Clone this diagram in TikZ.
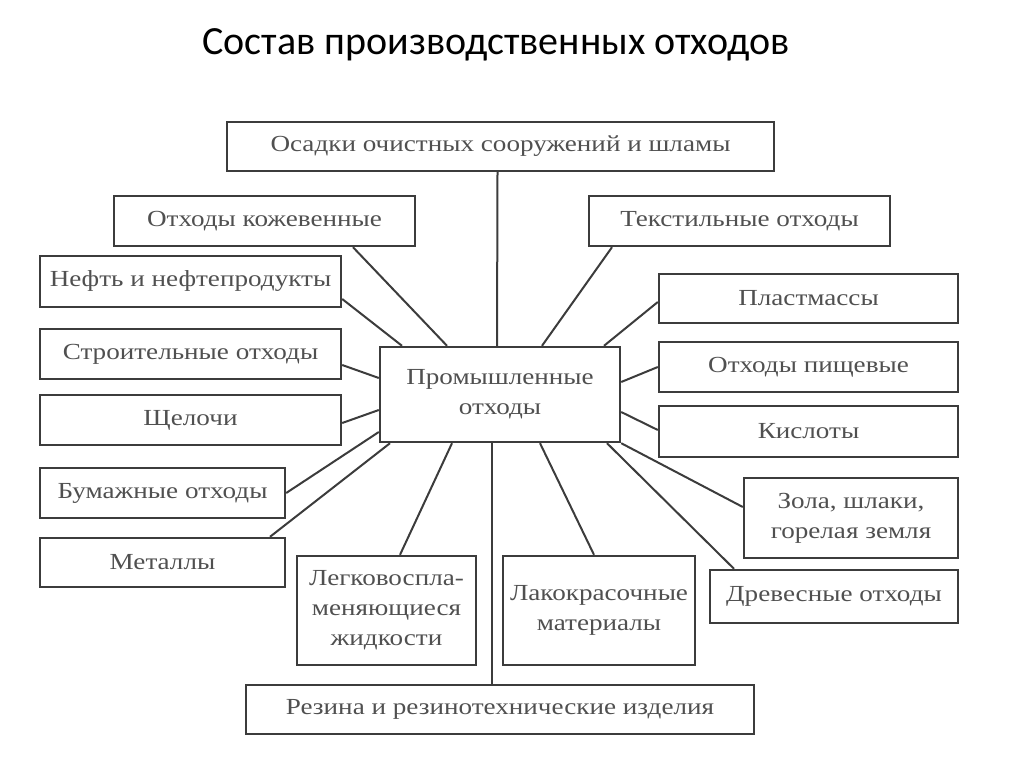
\documentclass[tikz,border=0pt]{standalone}
\usepackage{fontspec}
\setmainfont{Liberation Serif}[FakeStretch=1.18]
\newfontfamily\titlefont{Carlito}
\usepackage{tikz}

\definecolor{boxline}{HTML}{3C3C3C}
\definecolor{boxtext}{HTML}{505050}

\begin{document}
\begin{tikzpicture}[x=1pt,y=-1pt,
  box/.style={draw=boxline,line width=2.4pt,rectangle,inner sep=0pt,align=center,
    text=boxtext,font=\fontsize{23}{30}\selectfont},
  link/.style={draw=boxline,line width=2pt}]
\useasboundingbox (0,0) rectangle (1024,767);

\node[font=\titlefont\fontsize{40}{44}\selectfont] (title) at (496,45) {Состав производственных отходов};

% central box
\node[box,minimum width=240pt,minimum height=95pt] (prom) at (500,394.5) {Промышленные\\отходы};

% top and bottom
\node[box,minimum width=547pt,minimum height=49pt] (osadki) at (500.5,146.5) {Осадки очистных сооружений и шламы};
\node[box,minimum width=508pt,minimum height=49pt] (rezina) at (500,709.5) {Резина и резинотехнические изделия};

% left side
\node[box,minimum width=301pt,minimum height=50pt] (kozh) at (264.5,221) {Отходы кожевенные};
\node[box,minimum width=301pt,minimum height=51pt] (neft) at (190.5,281.5) {Нефть и нефтепродукты};
\node[box,minimum width=301pt,minimum height=50pt] (stroit) at (190.5,354) {Строительные отходы};
\node[box,minimum width=301pt,minimum height=50pt] (shchel) at (190.5,420) {Щелочи};
\node[box,minimum width=245pt,minimum height=50pt] (bumazh) at (162.5,493) {Бумажные отходы};
\node[box,minimum width=245pt,minimum height=49pt] (metall) at (162.5,562.5) {Металлы};
\node[box,minimum width=179pt,minimum height=109pt] (legko) at (386.5,610.5) {Легковоспла-\\меняющиеся\\жидкости};
\node[box,minimum width=192pt,minimum height=109pt] (lako) at (599,610.5) {Лакокрасочные\\материалы};

% right side
\node[box,minimum width=301pt,minimum height=50pt] (tekst) at (739.5,221) {Текстильные отходы};
\node[box,minimum width=299pt,minimum height=49pt] (plast) at (808.5,298.5) {Пластмассы};
\node[box,minimum width=299pt,minimum height=50pt] (pishch) at (808.5,367) {Отходы пищевые};
\node[box,minimum width=299pt,minimum height=51pt] (kislot) at (808.5,431.5) {Кислоты};
\node[box,minimum width=214pt,minimum height=80pt] (zola) at (851,518) {Зола, шлаки,\\горелая земля};
\node[box,minimum width=248pt,minimum height=53pt] (drev) at (834,596.5) {Древесные отходы};

% connectors
\draw[link] ([xshift=-3pt]osadki.south) -- ([xshift=-3pt]prom.north);
\draw[link] ([xshift=-8pt]prom.south) -- ([xshift=-8pt]rezina.north);
\draw[link] ([xshift=88.5pt]kozh.south) -- ([xshift=-53pt]prom.north);
\draw[link] ([yshift=-17.5pt]neft.east) -- ([xshift=-98pt]prom.north);
\draw[link] ([yshift=-11pt]stroit.east) -- ([yshift=16.5pt]prom.west);
\draw[link] ([yshift=-3pt]shchel.east) -- ([yshift=-15.5pt]prom.west);
\draw[link] (bumazh.east) -- ([yshift=-37.5pt]prom.west);
\draw[link] ([xshift=107.5pt]metall.north) -- ([xshift=-110pt]prom.south);
\draw[link] ([xshift=13.5pt]legko.north) -- ([xshift=-48pt]prom.south);
\draw[link] ([xshift=-5pt]lako.north) -- ([xshift=40pt]prom.south);
\draw[link] ([xshift=-100pt]drev.north) -- ([xshift=107pt]prom.south);
\draw[link] ([yshift=11pt]zola.west) -- (prom.south east);
\draw[link] ([yshift=1.5pt]kislot.west) -- ([yshift=-17.5pt]prom.east);
\draw[link] (pishch.west) -- ([yshift=12.5pt]prom.east);
\draw[link] ([yshift=-3.5pt]plast.west) -- ([xshift=104pt]prom.north);
\draw[link] ([xshift=-127.5pt]tekst.south) -- ([xshift=42pt]prom.north);
\end{tikzpicture}
\end{document}
